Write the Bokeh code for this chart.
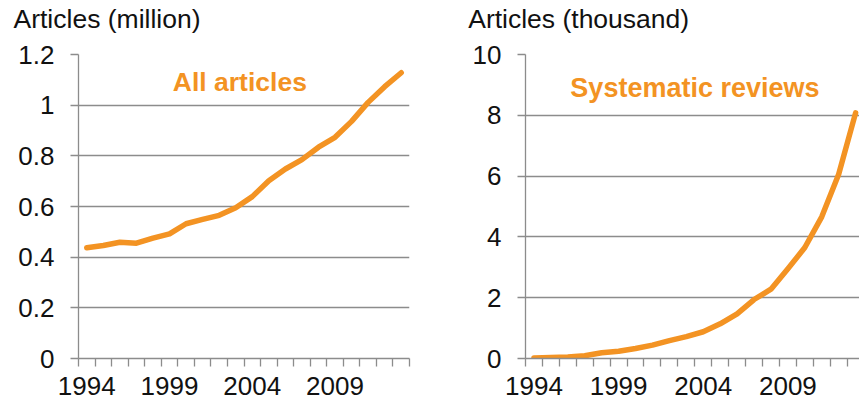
from bokeh.plotting import figure
from bokeh.layouts import row, column
from bokeh.models import Range1d, FixedTicker, Label
from bokeh.embed import file_html
from bokeh.resources import INLINE

# ---- data ----
YEARS = list(range(1994, 2014))
ALL_ARTICLES_MILLION = [0.437, 0.446, 0.459, 0.455, 0.475, 0.492, 0.532, 0.549, 0.565, 0.595,
                        0.639, 0.702, 0.748, 0.785, 0.834, 0.873, 0.936, 1.011, 1.073, 1.128]
SYSTEMATIC_REVIEWS_THOUSAND = [0.02, 0.03, 0.05, 0.09, 0.19, 0.24, 0.33, 0.44, 0.59, 0.72,
                               0.88, 1.14, 1.47, 1.94, 2.28, 2.95, 3.65, 4.66, 6.06, 8.08]
X_TICK_LABEL_YEARS = [1994, 1999, 2004, 2009]
Y1_TICKS = [0, 0.2, 0.4, 0.6, 0.8, 1, 1.2]
Y1_LABELS = ["0", "0.2", "0.4", "0.6", "0.8", "1", "1.2"]
Y2_TICKS = [0, 2, 4, 6, 8, 10]
Y2_LABELS = ["0", "2", "4", "6", "8", "10"]
TITLE1 = "Articles (million)"
TITLE2 = "Articles (thousand)"
NOTE1 = "All articles"
NOTE2 = "Systematic reviews"

ORANGE = "#F39323"
GRAY = "#8C8C8C"
TEXT = "#111111"
FONT = "Liberation Sans"
TITLE_H = 40


def make_title(text, width, tx):
    t = figure(width=width, height=TITLE_H, output_backend="svg", toolbar_location=None,
               x_range=Range1d(0, width), y_range=Range1d(0, TITLE_H),
               x_axis_type=None, y_axis_type=None,
               min_border_left=0, min_border_right=0, min_border_top=0, min_border_bottom=0)
    t.frame_align = False
    t.outline_line_color = None
    t.grid.visible = False
    t.background_fill_color = "white"
    t.border_fill_color = "white"
    t.add_layout(Label(x=tx, y=21.7, text=text, text_font=FONT, text_font_size="26.5px",
                       text_color=TEXT, text_baseline="alphabetic"))
    return t


def make_chart(ys, yticks, ylabels, ymax, xend, width, border_left, border_right,
               note, note_x, note_y, note_size):
    p = figure(width=width, height=402 - TITLE_H, output_backend="svg", toolbar_location=None,
               x_range=Range1d(YEARS[0] - 0.5, xend), y_range=Range1d(0, ymax),
               min_border_left=border_left, min_border_right=border_right,
               min_border_top=54 - TITLE_H, min_border_bottom=44)
    p.frame_align = False
    p.outline_line_color = None
    p.background_fill_color = "white"
    p.border_fill_color = "white"

    minor = [y - 0.5 for y in YEARS] + [YEARS[-1] + 0.5]
    xa = p.xaxis[0]
    xa.ticker = FixedTicker(ticks=X_TICK_LABEL_YEARS, minor_ticks=minor)
    xa.major_tick_out = 0
    xa.major_tick_in = 0
    xa.minor_tick_out = 8
    xa.minor_tick_in = 0
    xa.minor_tick_line_color = GRAY
    xa.minor_tick_line_width = 1.3
    xa.axis_line_color = GRAY
    xa.axis_line_width = 1.3
    xa.major_label_text_font = FONT
    xa.major_label_text_font_size = "26px"
    xa.major_label_text_color = TEXT
    xa.major_label_standoff = 10

    ya = p.yaxis[0]
    ya.ticker = FixedTicker(ticks=yticks)
    ya.major_label_overrides = {t: l for t, l in zip(yticks, ylabels)}
    ya.major_tick_out = 8
    ya.major_tick_in = 0
    ya.minor_tick_out = 0
    ya.minor_tick_in = 0
    ya.major_tick_line_color = GRAY
    ya.major_tick_line_width = 1.3
    ya.axis_line_color = GRAY
    ya.axis_line_width = 1.3
    ya.major_label_text_font = FONT
    ya.major_label_text_font_size = "26px"
    ya.major_label_text_color = TEXT
    ya.major_label_standoff = 16

    p.xgrid.grid_line_color = None
    p.ygrid.grid_line_color = GRAY
    p.ygrid.grid_line_width = 1.3

    p.line(YEARS, ys, line_color=ORANGE, line_width=5.5, line_join="round", line_cap="round")

    p.add_layout(Label(x=note_x, y=note_y, text=note, text_font=FONT, text_font_size=note_size,
                       text_font_style="bold", text_color=ORANGE, text_baseline="alphabetic"))
    return p


t1 = make_title(TITLE1, 430, 13)
p1 = make_chart(ALL_ARTICLES_MILLION, Y1_TICKS, Y1_LABELS, 1.2, YEARS[-1] + 0.5,
                430, 78, 21, NOTE1, 1999.2, 1.0905, "26.5px")
t2 = make_title(TITLE2, 429, 37.7)
p2 = make_chart(SYSTEMATIC_REVIEWS_THOUSAND, Y2_TICKS, Y2_LABELS, 10, 2013.23,
                429, 95, 0, NOTE2, 1996.15, 8.9, "27px")

layout = row(column(t1, p1), column(t2, p2))
open("out.html", "w").write(file_html(layout, INLINE))
